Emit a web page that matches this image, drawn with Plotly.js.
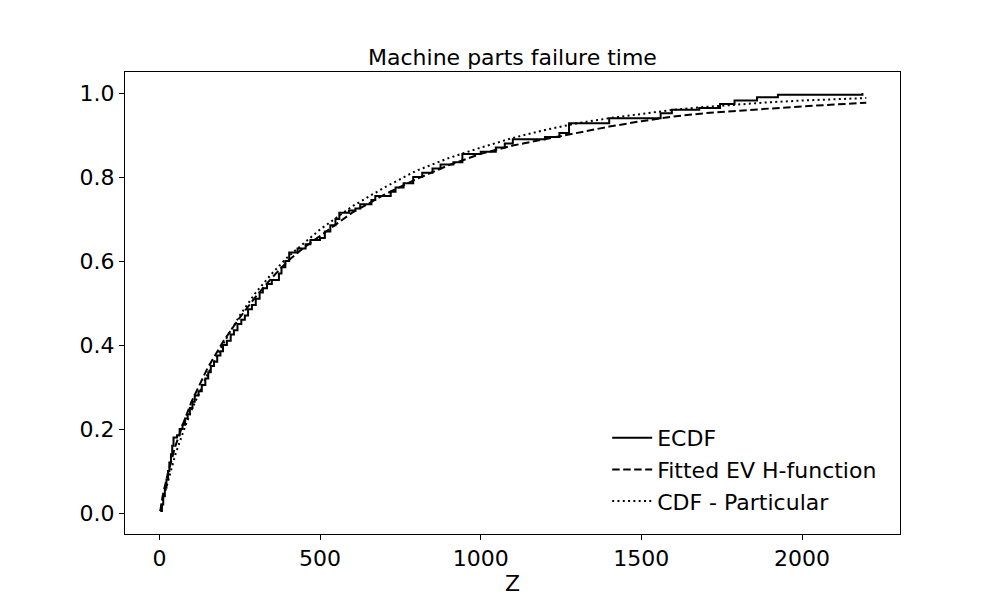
<!DOCTYPE html>
<html>
<head>
<meta charset="utf-8">
<script src="https://cdn.plot.ly/plotly-3.0.1.min.js"></script>
<style>html,body{margin:0;padding:0;background:#fff;}#chart{width:1000px;height:600px;}</style>
</head>
<body>
<div id="chart"></div>
<script>
// ECDF (step function)
const ecdfX = [3, 8, 12, 17, 22, 27, 31, 36, 40, 44, 55, 63, 72, 80, 88, 95, 103, 110, 122, 132, 143, 152, 160, 170, 180, 190, 198, 210, 222, 232, 243, 255, 266, 276, 288, 300, 312, 322, 335, 350, 372, 380, 392, 404, 430, 455, 470, 500, 515, 532, 548, 560, 590, 610, 625, 660, 672, 720, 735, 760, 790, 818, 850, 875, 915, 943, 1000, 1047, 1075, 1100, 1200, 1245, 1275, 1400, 1560, 1595, 1680, 1745, 1790, 1860, 1925, 2188];
const ecdfY = [0.005, 0.02, 0.04, 0.06, 0.08, 0.10, 0.12, 0.14, 0.16, 0.18, 0.185, 0.20, 0.21, 0.225, 0.235, 0.25, 0.265, 0.28, 0.29, 0.305, 0.32, 0.335, 0.35, 0.36, 0.375, 0.385, 0.40, 0.41, 0.425, 0.435, 0.45, 0.46, 0.47, 0.485, 0.495, 0.51, 0.525, 0.535, 0.545, 0.555, 0.57, 0.585, 0.60, 0.62, 0.63, 0.64, 0.65, 0.655, 0.67, 0.685, 0.70, 0.715, 0.72, 0.725, 0.735, 0.745, 0.755, 0.765, 0.775, 0.785, 0.80, 0.81, 0.82, 0.83, 0.835, 0.855, 0.86, 0.87, 0.88, 0.89, 0.895, 0.905, 0.928, 0.94, 0.952, 0.96, 0.964, 0.974, 0.982, 0.99, 0.996, 1.0];

// Fitted EV H-function (dashed)
const fitX = [3, 10, 25, 50, 75, 100, 150, 200, 250, 300, 350, 400, 450, 500, 600, 700, 800, 900, 1000, 1100, 1200, 1300, 1400, 1500, 1600, 1700, 1800, 1900, 2000, 2100, 2200];
const fitY = [0.005, 0.04, 0.09, 0.16, 0.215, 0.265, 0.345, 0.41, 0.465, 0.515, 0.56, 0.60, 0.632, 0.66, 0.715, 0.758, 0.795, 0.828, 0.855, 0.875, 0.89, 0.905, 0.92, 0.933, 0.944, 0.952, 0.958, 0.963, 0.968, 0.973, 0.977];

// CDF - Particular (dotted)
const cdfX = [3, 10, 25, 50, 75, 100, 150, 200, 250, 300, 350, 400, 500, 600, 700, 750, 800, 900, 1000, 1100, 1200, 1300, 1400, 1500, 1600, 1700, 1800, 1900, 2000, 2100, 2200];
const cdfY = [0.004, 0.03, 0.07, 0.14, 0.195, 0.245, 0.33, 0.405, 0.47, 0.525, 0.57, 0.61, 0.675, 0.73, 0.775, 0.795, 0.815, 0.845, 0.87, 0.893, 0.912, 0.928, 0.94, 0.95, 0.96, 0.967, 0.973, 0.978, 0.982, 0.985, 0.988];

const fam = 'DejaVu Sans';

const traces = [
  {x: ecdfX, y: ecdfY, type: 'scatter', mode: 'lines', name: 'ECDF', line: {color: '#000', width: 2, shape: 'hv'}},
  {x: fitX, y: fitY, type: 'scatter', mode: 'lines', name: 'Fitted EV H-function', line: {color: '#000', width: 2, dash: '7.5px,3.5px'}},
  {x: cdfX, y: cdfY, type: 'scatter', mode: 'lines', name: 'CDF - Particular', line: {color: '#000', width: 2, dash: '2px,3.3px'}}
];

const layout = {
  width: 1000, height: 600,
  margin: {l: 125, r: 100, t: 72, b: 66},
  paper_bgcolor: '#fff', plot_bgcolor: '#fff',
  font: {family: fam, size: 22, color: '#000'},
  title: {text: 'Machine parts failure time', font: {family: fam, size: 22, color: '#000'}, x: 0.5125, xanchor: 'center', y: 0.905, yanchor: 'middle'},
  xaxis: {
    range: [-107, 2305], showgrid: false, zeroline: false,
    showline: true, linecolor: '#000', linewidth: 1, mirror: true,
    ticks: 'outside', ticklen: 5, tickwidth: 1, tickcolor: '#000',
    tickvals: [0, 500, 1000, 1500, 2000], ticktext: ['0', '500', '1000', '1500', '2000'],
    tickfont: {family: fam, size: 22, color: '#000'},
    title: {text: 'Z', font: {family: fam, size: 22, color: '#000'}, standoff: 0}
  },
  yaxis: {
    range: [-0.05, 1.05], showgrid: false, zeroline: false,
    showline: true, linecolor: '#000', linewidth: 1, mirror: true,
    ticks: 'outside', ticklen: 5, tickwidth: 1, tickcolor: '#000',
    tickvals: [0, 0.2, 0.4, 0.6, 0.8, 1.0], ticktext: ['0.0', '0.2', '0.4', '0.6', '0.8', '1.0'],
    tickfont: {family: fam, size: 22, color: '#000'}
  },
  legend: {
    x: 0.977, xanchor: 'right', y: 0.026, yanchor: 'bottom',
    bgcolor: 'rgba(255,255,255,0)', borderwidth: 0,
    font: {family: fam, size: 22, color: '#000'},
    tracegroupgap: 0, itemwidth: 40
  },
  showlegend: true
};

Plotly.newPlot('chart', traces, layout, {staticPlot: true, displayModeBar: false});
</script>
</body>
</html>
